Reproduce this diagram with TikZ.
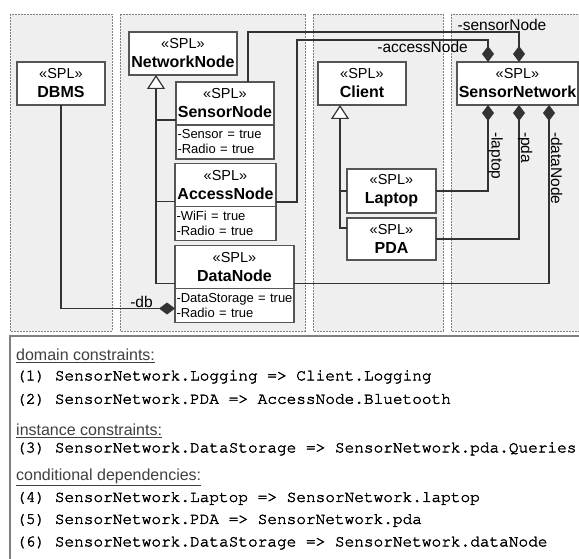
\documentclass[tikz,border=0pt]{standalone}
\usepackage[T1]{fontenc}
\usepackage{fontspec}
\setmainfont{Liberation Sans}
\setmonofont{Liberation Mono}
\usetikzlibrary{arrows.meta,positioning}
\definecolor{panelgray}{HTML}{EFEFEF}
\definecolor{linegray}{HTML}{333333}
\definecolor{boxgray}{HTML}{555555}
\newcommand{\stereo}{{\fontsize{14.5}{19}\selectfont\mdseries «SPL»}}
\newcommand{\courierfont}{\fontencoding{T1}\fontfamily{pcr}\fontseries{m}\selectfont}
\newcommand{\oclline}[1]{\special{pdf:literal 2 Tr 0.35 w}#1\special{pdf:literal 0 Tr}}

\begin{document}
\begin{tikzpicture}[x=1pt, y=-1pt,
  panel/.style={draw=gray, fill=panelgray, dash pattern=on 2pt off 1pt, line width=0.9pt},
  splbox/.style={draw=boxgray, fill=white, line width=1.3pt, outer sep=0pt, inner sep=1pt, align=center, minimum height=43pt, font=\fontsize{16}{19}\selectfont\bfseries},
  attrbox/.style={draw=boxgray, fill=white, line width=1.3pt, outer sep=0pt, inner xsep=1.5pt, inner ysep=1pt, align=left, minimum height=34pt, font=\fontsize{13}{15}\selectfont},
  conn/.style={draw=linegray, line width=1.2pt},
  gen/.style={conn, -{Triangle[length=14pt, width=18pt, fill=white]}},
  comp/.style={conn, {Diamond[length=16pt, width=12pt]}-},
  role/.style={font=\fontsize{15.5}{18}\selectfont, inner sep=0pt},
  cnote/.style={anchor=west, inner sep=0pt, text=darkgray, font=\fontsize{16}{19}\selectfont},
  ocl/.style={anchor=west, inner sep=0pt, text=black, font=\fontsize{16.1}{19}\courierfont}
]
\fill[white] (0,0) rectangle (579,559);
\useasboundingbox (0,0) rectangle (579,559);

% packages
\draw[panel] (10,14) rectangle (112,331);
\draw[panel] (120,14) rectangle (305,331);
\draw[panel] (313,14) rectangle (443,331);
\draw[panel] (451,14) rectangle (595,331);

% constraints box
\draw[draw=gray, line width=1.2pt, fill=white] (10,336) rectangle (595,575);

% classes
\node[splbox, minimum width=88pt] (dbms) at (61,83.5) {\stereo\\DBMS};
\node[splbox, minimum width=108pt] (network) at (183,53.5) {\stereo\\NetworkNode};
\node[splbox, minimum width=98pt] (sensor) at (225,103.5) {\stereo\\SensorNode};
\node[attrbox, text width=95pt, below=0pt of sensor] (sensorattr) {-Sensor = true\\-Radio = true};
\node[splbox, minimum width=101pt] (access) at (225.5,185) {\stereo\\AccessNode};
\node[attrbox, text width=98pt, below=0pt of access] (accessattr) {-WiFi = true\\-Radio = true};
\node[splbox, minimum width=119pt] (data) at (234.5,267) {\stereo\\DataNode};
\node[attrbox, text width=116pt, below=0pt of data] (dataattr) {-DataStorage = true\\-Radio = true};
\node[splbox, minimum width=88pt] (client) at (362,83.5) {\stereo\\Client};
\node[splbox, minimum width=121pt] (snet) at (517.5,83.5) {\stereo\\SensorNetwork};
\node[splbox, minimum width=89pt, minimum height=44pt] (laptop) at (391.5,191) {\stereo\\Laptop};
\node[splbox, minimum width=89pt, minimum height=42pt] (pda) at (391.5,239) {\stereo\\PDA};

% generalisations
\draw[gen] ([yshift=5pt]data.south west) -| ([xshift=-27pt]network.south);
\draw[conn] ([yshift=5pt]sensor.south west) -- ++(-20,0);
\draw[conn] ([yshift=5pt]access.south west) -- ++(-19.5,0);
\draw[gen] ([yshift=-10pt]pda.north west) -| ([xshift=-22pt]client.south);
\draw[conn] (laptop.west) -- ++(-7,0);

% compositions
\draw[comp] ([yshift=-3pt]dataattr.west) -| (dbms.south);
\draw[comp] ([xshift=1.5pt]snet.north) -- ++(0,-30) -| ([xshift=23pt]sensor.north);
\draw[comp] ([xshift=-29.5pt]snet.north) -- ++(0,-22) -| ++(-191,162) -- ([yshift=4.5pt]access.south east);
\draw[comp] ([xshift=-29.5pt]snet.south) |- (laptop.east);
\draw[comp] ([xshift=1.5pt]snet.south) |- (pda.east);
\draw[comp] ([xshift=31.5pt]snet.south) |- ([yshift=5pt]data.south east);

% role names
\node[role, anchor=base] (dblbl) at (141.5,307) {-db};
\node[role, anchor=base] (sensorlbl) at (502,31) {-sensorNode};
\node[role, anchor=base east] (accesslbl) at (468,52.5) {-accessNode};
\node[role, rotate=-90, anchor=base west] (laptoplbl) at (491.5,132) {-laptop};
\node[role, rotate=-90, anchor=base west] (pdalbl) at (521,132) {-pda};
\node[role, rotate=-90, anchor=base west] (datalbl) at (551,132) {-dataNode};

% constraints
\node[cnote] (domain) at (16,356) {\underline{domain constraints:}};
\node[ocl] (c1) at (16,376.5) {\oclline{(1) SensorNetwork.Logging => Client.Logging}};
\node[ocl] (c2) at (16,399.5) {\oclline{(2) SensorNetwork.PDA => AccessNode.Bluetooth}};
\node[cnote] (instance) at (16,431) {\underline{instance constraints:}};
\node[ocl] (c3) at (16,448.5) {\oclline{(3) SensorNetwork.DataStorage => SensorNetwork.pda.Queries}};
\node[cnote] (conditional) at (16,477.5) {\underline{conditional dependencies:}};
\node[ocl] (c4) at (16,498) {\oclline{(4) SensorNetwork.Laptop => SensorNetwork.laptop}};
\node[ocl] (c5) at (16,520) {\oclline{(5) SensorNetwork.PDA => SensorNetwork.pda}};
\node[ocl] (c6) at (16,542.5) {\oclline{(6) SensorNetwork.DataStorage => SensorNetwork.dataNode}};
\end{tikzpicture}
\end{document}
